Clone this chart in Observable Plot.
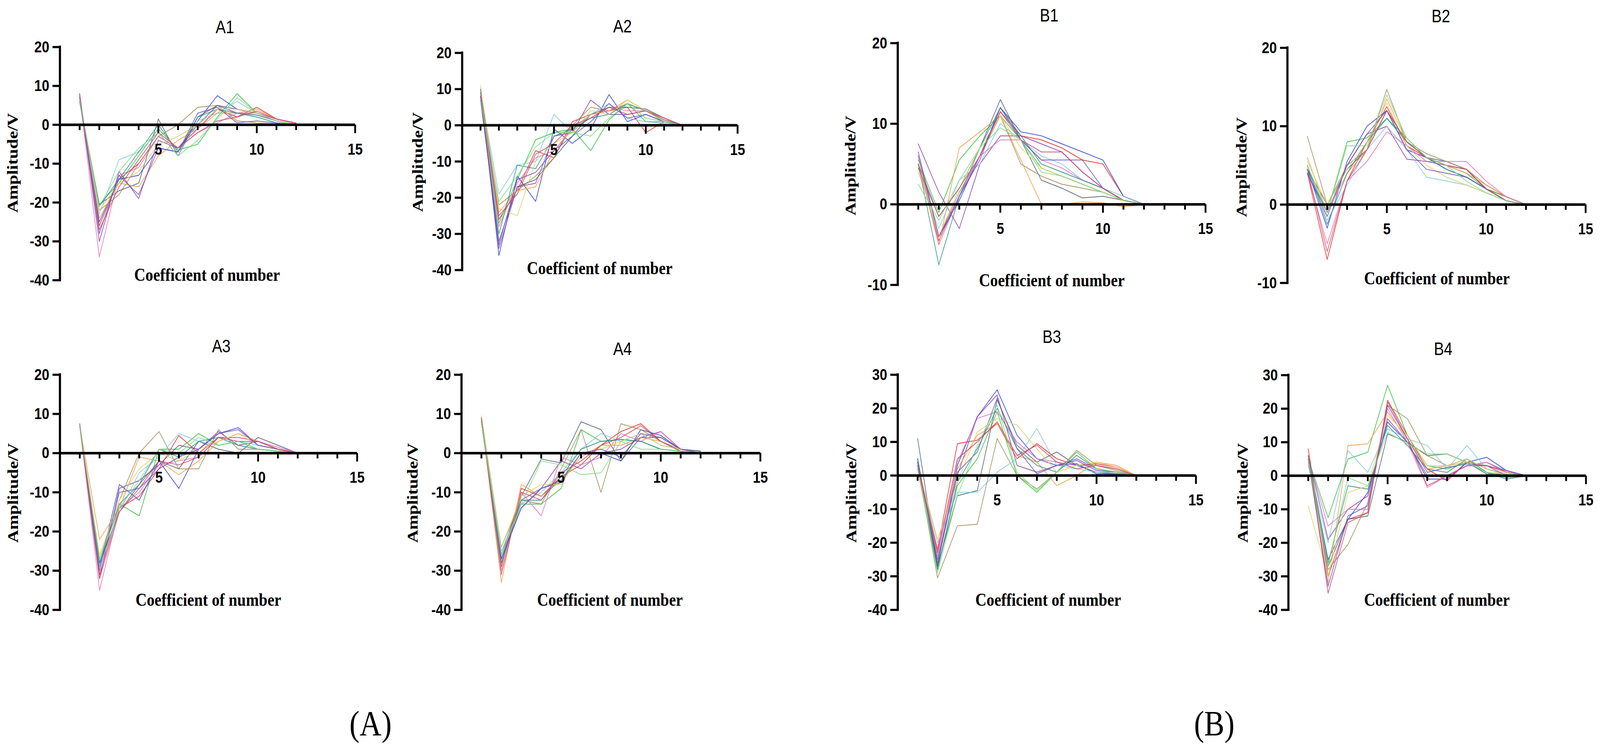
<!DOCTYPE html>
<html>
<head>
<meta charset="utf-8">
<script src="https://cdn.jsdelivr.net/npm/d3@7"></script>
<script src="https://cdn.jsdelivr.net/npm/@observablehq/plot@0.6"></script>
<style>
  html, body { margin: 0; padding: 0; background: #ffffff; overflow: hidden; width: 100%; height: 100%; }
  #viewport { position: fixed; left: 0; top: 0; width: 100vw; height: 100vh; overflow: hidden; background: #ffffff; }
  #root { position: absolute; left: 0; top: 0; width: 4845px; height: 1910px; background: #ffffff; overflow: hidden; transform-origin: 0 0; }
  .panel { position: absolute; }
  .lbl { position: absolute; white-space: nowrap; line-height: 1; color: #000; }
</style>
</head>
<body>
<div id="viewport"><div id="root"></div></div>
<script>
// ---------------- data ----------------
const coeffs = [1, 2, 3, 4, 5, 6, 7, 8, 9, 10, 11, 12];
const seriesNames = ["S1","S2","S3","S4","S5","S6","S7","S8","S9","S10","S11","S12","S13","S14"];
const xTicks = [1,2,3,4,5,6,7,8,9,10,11,12,13,14,15];
const xTickLabels = [5, 10, 15];
const yTicksA = [20, 10, 0, -10, -20, -30, -40];
const yTicksB12 = [20, 10, 0, -10];
const yTicksB34 = [30, 20, 10, 0, -10, -20, -30, -40];
const panelTitles = ["A1","A2","A3","A4","B1","B2","B3","B4"];
const groupLabels = ["(A)", "(B)"];
const xTitle = "Coefficient of number";
const yTitle = "Amplitude/V";

const A1 = [
  [7.5, -26, -14, -10, -3, -6, -1, 4, 2, 4.5, 1.5, 0.3],
  [6, -20.5, -15, -8, -1, -6.5, -5, 2, 8, 3, 1, 0],
  [7, -25, -14, -13, -6, -7, 1, 7.5, 4, 3, 1, 0],
  [8, -30, -12, -19, -4, -6, 0, 5, 4, 3, 1.5, 0.2],
  [6, -20.5, -17, -15, 1.5, -8, 2, 5, 3, 2.5, 1, 0],
  [6.5, -22, -18, -10, -3, 0, 4.5, 5, 1, 0.5, 0.3, 0],
  [7, -24, -15, -16, -8, -4, -1, 3, 3, 4, 1.5, 0.2],
  [6, -23, -9, -7, -2, -8, 1, 3, 6, 3, 1, 0],
  [7.5, -34, -13, -11, -3, -6, -2, 0.5, 3, 3, 1.5, 0.3],
  [6, -21, -14, -7, 0, -7, 2, 4, 3, 2, 0.5, 0],
  [7, -22, -15, -12, -5, -3, 0, 4, 4, 3, 1, 0],
  [7, -28, -13, -18, -6, -7, 3, 4.5, 0.5, 1, 0.5, 0],
  [8, -27, -16, -9, -2, -6, -2, 1, 2, 3.5, 1.5, 0.5],
  [6.5, -21, -12, -6, -2, -8, -4, 1.5, 7, 3, 1, 0]
];
const A2 = [
  [8, -26, -18, -7, -9, 1, 3, 4, 5, -2, 1, 0],
  [9, -27, -15, -4, -2, -1, -7, 1.5, 6, 1, 1, 0],
  [10, -36, -14, -21, -1, -5, -1, 8.5, 1, 3, 1, 0],
  [8, -34, -17, -16, -3, -2, 7, 3, 3, 4, 1.5, 0],
  [7, -32, -17, -15, -9, -3, 3, 5, 5, 4.5, 2, 0],
  [9, -22, -18, -14, -9, 0, 5, 4, 6, 4, 1.5, 0],
  [8, -24, -18, -17, -7, -1, 3, 4, 7, 4, 1, 0],
  [9, -19, -11, -10, 3, -2, 3, 6, 2, 1, 0.5, 0],
  [8, -28, -16, -9, -7, -1, 2, 5, 4, 4, 2, 0],
  [7, -30, -11, -12, -3, -1, 2, 3, 6, 4, 1, 0],
  [11, -23, -25, -10, -5, -2, 4, 3, 7, 4, 1, 0],
  [8, -33, -15, -13, -7, -3, 1, 6, 2, 3, 1, 0],
  [9, -25, -19, -8, -5, 0, 2, 5, 3, 4, 2, 0],
  [7, -21, -14, -6, -2, -2, -3, 2, 6, 2, 1, 0]
];
const A3 = [
  [7, -31, -14, -11, -4, 4.5, 0, 4, 4, 3, 1, 0],
  [7, -28, -13, -16, 1, 1, 5, 2, 3, 1, 0.5, 0],
  [7.5, -29, -8, -12, -2, -9, 1, 5, 6.5, 2, 1, 0],
  [7, -32, -9, -7, -3, 2, 1, 5.5, 2, 3, 1, 0],
  [7, -28, -15, -8, -2, -4, 3, 1, 0, 4, 2, 0],
  [7, -27, -12, 0, 5.5, -4, -4, 6, 1, 1, 0.5, 0],
  [7, -22, -14, -1, -2, -5.5, -2, 3, 5, 3, 1, 0],
  [7, -29, -15, -5, -1, 5, 3, 2, 3, 2, 1, 0],
  [7, -35, -14, -10, -3, -2, -1, 4, 4, 3, 1.5, 0],
  [7, -28, -13, -8, 1, -1, 3, 4, 2, 1, 0.5, 0],
  [7, -26, -12, -4, 0, -2, 1, 3, 5, 2, 1, 0],
  [7, -30, -10, -9, -4, -1, 1, 5, 6, 2, 1, 0],
  [7, -32, -15, -9, -2, -3, -1, 4, 3, 3, 1, 0],
  [7, -27, -14, -7, 1, 0, 4, 2, 3, 1, 0.5, 0]
];
const A4 = [
  [9, -29, -9, -11, -6, -3, 2, 5.5, 7.5, 3, 0.5, 0],
  [8, -28, -13, -13, -9, 6, 3, 3.5, 3, 1, 0.5, 0],
  [8.5, -27, -14, -9, -7.5, 0, 0, -2, 6, 4.5, 1, 0.5],
  [8, -27, -12, -9, -2, -4, 0, 1, 4, 5.5, 1, 0],
  [8, -26, -11, -1.5, -2.5, 8, 6, -2, 4, 4, 1, 0.5],
  [9, -24, -12, -13, -4, 6, -10, 7.5, 6, 3, 1, 0],
  [9, -33, -8, -11, -7, -1, 2, 2, 4, 3, 0.5, 0],
  [9, -25, -13, -10, -5, 1, 5, 3, 5, 2, 1, 0],
  [8.5, -30, -10, -16, -1, -3, -1, 5, 3, 5.5, 1, 0],
  [8, -28, -12, -12, -6, 1, 3, 3.5, 3, 1, 0.5, 0],
  [9.5, -24, -11, -8, -8, 0, 1, 3, 5, 2, 1, 0],
  [8, -27, -14, -9, -7, 0, 1, -1, 5, 4, 1, 0],
  [9, -31, -10, -12, -5, -2, 2, 4, 7, 3, 0.5, 0],
  [8, -26, -13, -2, -3, -5.5, -5, 3, 1, 1, 0.5, 0]
];
const B1 = [
  [5, -4.5, 1, 6, 11.5, 8.5, 8, 7, 5.5, 5, 1, 0],
  [5.5, -1, 5.5, 8.5, 11, 8, 4.5, 3.5, 2.5, 1.5, 0.5, 0],
  [6, -4, 0.5, 6, 12, 9, 8.5, 7.5, 6.5, 5.5, 1, 0],
  [7.5, 1.5, -3, 5, 8.5, 8.5, 7.5, 6.5, 4, 2, 0.5, 0],
  [5, -1.5, 2, 7, 13, 8, 3, 2, 0.8, 1, 0.5, 0],
  [6, -4, 1.5, 6, 11, 5, 3.5, 2.5, 2, 1.5, 0.5, 0],
  [5, -5, 7, 9, 11, 5.5, 0, 0, 0.3, 0.2, -0.3, 0],
  [4, -3, 3, 5, 10, 8, 6, 5, 3, 2, 1, 0],
  [6, -5, 1, 6, 8, 8, 5.5, 4.5, 3, 2, 0.5, 0],
  [5, -7.5, 1, 7, 12, 8.5, 5, 4, 3, 2, 0.5, 0],
  [4.5, -4, 2, 7, 11, 7, 4.5, 3.5, 2.5, 1.5, 0.5, 0],
  [6.5, -4, 1, 5.5, 12, 8, 5.5, 5.5, 5.5, 2, 0.5, 0],
  [4.5, -1.5, 2, 6, 11.5, 8, 6.5, 6.5, 4, 2, 0.5, 0],
  [2.5, -2, 3, 7, 9.5, 8, 4, 3.5, 2.5, 1.5, 0.5, 0]
];
const B2 = [
  [4, -7, 3, 8, 12.5, 7.5, 6, 5, 4.5, 2, 1, 0],
  [4.5, -1, 8, 8.5, 11, 8.5, 6, 5, 4, 2, 1, 0],
  [4.5, -3, 5.5, 10, 12, 7, 6, 4.5, 3.5, 2, 0.5, 0],
  [4, -1.5, 5, 9, 10, 5.8, 5.5, 5, 4.5, 2, 0.5, 0],
  [4.5, 0, 4.5, 7, 12, 8, 6, 5.5, 4.5, 2, 0.5, 0],
  [8.7, 0, 5, 7, 14.7, 8, 6.5, 5.5, 4.5, 2.5, 1, 0],
  [6, -1, 4, 7, 13.5, 8, 6, 5, 4, 2.5, 1, 0],
  [5, -2, 2.5, 7, 10, 7, 3.5, 3, 2.5, 1.5, 0.5, 0],
  [4, -5, 3, 5.5, 9.3, 7.5, 5.5, 5.5, 5.5, 3, 1, 0],
  [5, -2.5, 4, 8, 11, 8, 6, 4.5, 3.5, 2, 0.5, 0],
  [5.5, 0, 4.5, 8, 13, 7.5, 5, 3.5, 2.5, 1.5, 0.5, 0],
  [4, -1, 5, 9, 12, 7, 4.5, 4, 3.5, 2, 0.5, 0],
  [4.5, -6, 3, 7, 12, 8, 6, 5, 4.5, 2, 0.5, 0],
  [5, -1, 7.5, 7.5, 14, 8.5, 6, 5, 3, 1.5, 0.5, 0]
];
const B3 = [
  [3, -22, 9.5, 10.5, 15.5, 5, 9.5, 5, 3, 3.5, 2.5, 0],
  [2, -28, -3, 5, 19, 0, -5, 1, 7, 2, 1, 0],
  [5, -27, 3, 17.5, 25.5, 12, 5, 3, 3.5, 0.5, 0.5, 0],
  [4, -26, 0, 17.5, 24, 3, 1, 3, 5, 2, 1, 0],
  [11, -27, -6, -4.5, 22.5, 9, 4, 7, 3, 1, 0.5, 0],
  [3, -30.5, -15, -14.5, 11, 0, -4, 1, 7.5, 3, 1.5, 0],
  [4, -23, 2, 12, 15.5, 6, 4, -3, 0, 4, 3, 0],
  [3, -20, -5, -5, 1, 5, 14, 3, 2, 1, 1, 0],
  [2, -24, 4, 17, 19, 10, 5, 4, 3, 3, 2, 0],
  [5, -28, -2, 8, 20, 8, 3, 1, 6, 2, 1, 0],
  [3, -19, -2, 13, 17, 15, 8, 1, 3, 4, 2.5, 0],
  [4, -25, 1, 7, 23, 8, 0.5, 3, 4.5, 1.5, 1, 0],
  [3, -23, 5, 10, 16, 6, 9, 4, 2, 3, 2, 0],
  [2, -29, -6, 9, 21, 1, -4.5, 1, 7, 2, 1, 0]
];
const B4 = [
  [8, -30, -13, -11, 22.5, 12, 2, -1.5, 4, 3, 1, 0],
  [5, -12.5, 5, 7, 27, 12, 3, 2, 4, 1, -0.5, 0],
  [5, -25, -13, -5, 16, 10, -1, -1, 4, 5.5, 1.5, 0],
  [6, -19, -10, -6, 17, 10, 0, 0, 3, 4, 1, 0],
  [5, -27, -13, -12, 12.5, 10, 6, 6.5, 4, 0.5, 0.5, 0],
  [4, -28, -20.5, -8, 21, 17, 6, 3, 5, 2, 0.5, 0],
  [4.5, -32, 9, 9.5, 19, 11, 2, 3, 4, 3, 1, 0],
  [3, -20, 7.5, 1, 14, 11, 9, 2, 9, 2, 0.5, 0],
  [5, -15, -10, -10, 20, 10, -3.5, 0, 3, 4, 1.5, 0],
  [6, -26, -3, -4, 15, 9, 2, 1, 5, 1, -1, 0],
  [-9, -30, -5, -3, 18, 12, 3, 3, 5, 2, 0, 0],
  [5, -33, -12, -9, 21, 11, 1, 2.5, 3.5, 3, 1.5, 0],
  [6, -35, -14, -11, 22, 11, -3, 0, 3, 3, 0, 0],
  [5, -27, -0.5, -3, 13, 9.5, 6.5, 6.5, 4, 1, 0.5, 0]
];

// ---------------- styles / layout ----------------
const palette = ["#e8251f","#2fbf3a","#2b3fd1","#8a3ca8","#4f5f6f","#9b8b55","#f29a45",
                 "#80c4e8","#e06fbd","#2a8f86","#e0d060","#6a4fc0","#c8486a","#7fdc7f"];
const panelData = [A1, A2, A3, A4, B1, B2, B3, B4];
const panelYDomain = [[-40,20],[-40,20],[-40,20],[-40,20],[-10,20],[-10,20],[-40,30],[-40,30]];
const panelYTicks = [yTicksA, yTicksA, yTicksA, yTicksA, yTicksB12, yTicksB12, yTicksB34, yTicksB34];
// pixel frame of each panel: [x at 0, x at 15, y at top, y at bottom]
const frames = [
  [181, 1075, 120, 717],
  [1399, 2233, 135, 691],
  [181, 1081, 959, 1561],
  [1397, 2302, 959, 1561],
  [2718, 3650, 110, 729],
  [3898, 4801, 122, 724],
  [2718, 3621, 959, 1561],
  [3901, 4802, 960, 1561]
];
const titlePos = [[681,69],[1885,67],[670,886],[1885,893],[3177,39],[4363,41],[3185,862],[4370,893]];
const yTitlePos = [[38,417],[1265,415],[40,1262],[1250,1262],[2576,424],[3760,428],[2578,1262],[3763,1262]];
const xTitlePos = [[627,703],[1816,686],[631,1535],[1847,1535],[3185,717],[4351,712],[3174,1535],[4351,1535]];
const groupPos = [[1122,1852],[3677,1852]];

const ML = 110, MR = 50, MT = 25, MB = 30;
const root = document.getElementById("root");

// The browser window may be narrower than the 4845x1910 figure: stretch the figure to fill it.
function fit() {
  const sx = window.innerWidth / 4845, sy = window.innerHeight / 1910;
  root.style.transform = (Math.abs(sx - 1) > 0.001 || Math.abs(sy - 1) > 0.001) ? `scale(${sx}, ${sy})` : "none";
}
fit();
window.addEventListener("resize", fit);

function tidy(rows) {
  const out = [];
  rows.forEach((vals, si) => vals.forEach((v, i) => out.push({x: coeffs[i], y: v, s: seriesNames[si]})));
  return out;
}

function addLabel(x, y, text, css, rotate) {
  const d = document.createElement("div");
  d.className = "lbl";
  d.textContent = text;
  Object.assign(d.style, css);
  d.style.left = x + "px";
  d.style.top = y + "px";
  d.style.transform = "translate(-50%,-50%)" + (rotate ? " rotate(-90deg)" : "");
  root.appendChild(d);
}

panelData.forEach((rows, p) => {
  const [x0, x15, yT, yB] = frames[p];
  const w = ML + (x15 - x0) + MR;
  const h = MT + (yB - yT) + MB;
  const chart = Plot.plot({
    width: w,
    height: h,
    marginLeft: ML, marginRight: MR, marginTop: MT, marginBottom: MB,
    x: {domain: [0, 15], axis: null},
    y: {domain: panelYDomain[p], axis: null},
    color: {domain: seriesNames, range: palette},
    style: {background: "transparent", overflow: "visible", maxWidth: "none",
            fontFamily: "'Liberation Sans', Arial, sans-serif", fontSize: "41px", fontWeight: "bold", color: "#000"},
    marks: [
      Plot.line(tidy(rows), {x: "x", y: "y", z: "s", stroke: "s", strokeWidth: 2.2, strokeOpacity: 0.82}),
      Plot.ruleX([0], {stroke: "#000", strokeWidth: 6.5, strokeLinecap: "square"}),
      Plot.ruleY([0], {x1: 0, x2: 15, stroke: "#000", strokeWidth: 6.5}),
      Plot.ruleX(xTicks.filter(t => t % 5 !== 0), {x: d => d, y1: 0, y2: 0, insetBottom: -14, stroke: "#000", strokeWidth: 5.5}),
      Plot.ruleX(xTicks.filter(t => t % 5 === 0), {x: d => d, y1: 0, y2: 0, insetBottom: -22, stroke: "#000", strokeWidth: 5.5}),
      Plot.text(xTickLabels, {x: d => d, y: 0, dy: 63, text: d => String(d), fontSize: 41, fontWeight: "bold", fill: "#000"}),
      Plot.axisY({ticks: panelYTicks[p], tickSize: 22, tickPadding: 10, strokeWidth: 5.5, stroke: "#000",
                  tickFormat: d => String(d), label: null, fontSize: 41, fontWeight: "bold", fill: "#000"})
    ]
  });
  const wrap = document.createElement("div");
  wrap.className = "panel";
  wrap.style.left = (x0 - ML) + "px";
  wrap.style.top = (yT - MT) + "px";
  wrap.style.width = w + "px";
  wrap.style.height = h + "px";
  wrap.appendChild(chart);
  root.appendChild(wrap);

  addLabel(titlePos[p][0], titlePos[p][1], panelTitles[p],
           {fontFamily: "'Liberation Sans', Arial, sans-serif", fontSize: "46px", fontWeight: "normal"});
  addLabel(yTitlePos[p][0], yTitlePos[p][1], yTitle,
           {fontFamily: "'Liberation Serif', 'Times New Roman', serif", fontSize: "46px", fontWeight: "bold"}, true);
  addLabel(xTitlePos[p][0], xTitlePos[p][1], xTitle,
           {fontFamily: "'Liberation Serif', 'Times New Roman', serif", fontSize: "47px", fontWeight: "bold"});
});

groupLabels.forEach((t, i) => {
  addLabel(groupPos[i][0], groupPos[i][1], t,
           {fontFamily: "'Liberation Serif', 'Times New Roman', serif", fontSize: "92px", fontWeight: "normal"});
});
</script>
</body>
</html>
